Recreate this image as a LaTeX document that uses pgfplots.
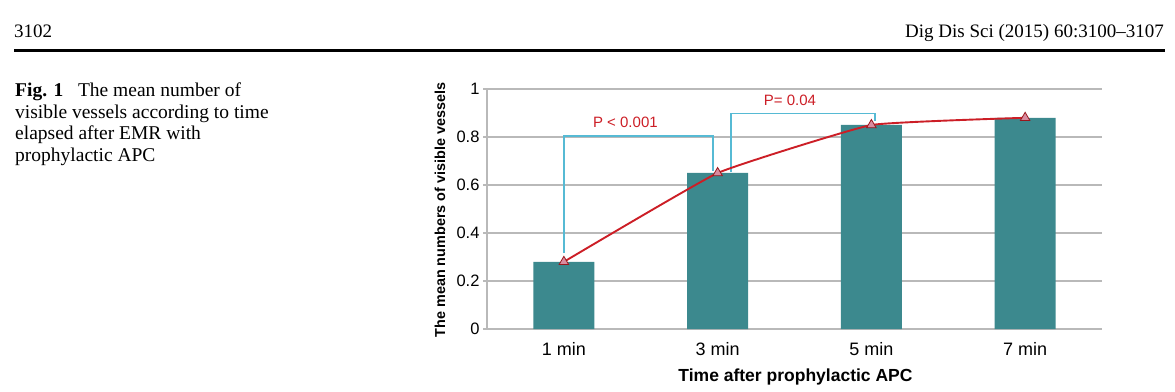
\documentclass[border=0pt]{standalone}
\usepackage{pgfplots}
\pgfplotsset{compat=1.18}
\usepackage{fontspec}
\setmainfont{Liberation Serif}
\newfontfamily\arial{Liberation Sans}
\definecolor{barteal}{RGB}{60,137,142}
\definecolor{linered}{RGB}{204,30,38}
\definecolor{markfill}{RGB}{216,140,160}
\definecolor{brcyan}{RGB}{86,186,212}
\definecolor{gridgray}{RGB}{185,185,185}
\begin{document}
\begin{tikzpicture}[x=1pt,y=1pt]
\useasboundingbox (0,0) rectangle (1175,391);
% page header
\node[anchor=base west,inner sep=0pt,font=\fontsize{19}{22}\selectfont] at (14,353.5) {3102};
\node[anchor=base east,inner sep=0pt,font=\fontsize{19}{22}\selectfont] at (1164,353.5) {Dig Dis Sci (2015) 60:3100--3107};
\draw[line width=3pt] (14,340.5) -- (1165,340.5);
% caption
\begin{scope}[every node/.style={anchor=base west,inner sep=0pt,font=\fontsize{19.5}{21.7}\selectfont}]
\node at (15,294.3) {\textbf{Fig. 1}\hspace{0.75em}The mean number of};
\node at (15,272.7) {visible vessels according to time};
\node at (15,251.0) {elapsed after EMR with};
\node at (15,229.3) {prophylactic APC};
\end{scope}
\begin{axis}[
  at={(487pt,62pt)}, anchor=south west,
  scale only axis, width=615pt, height=240pt,
  xmin=-0.5, xmax=3.5, ymin=0, ymax=1,
  axis x line=bottom, axis y line=left,
  axis line style={draw=gridgray,line width=1.3pt,-},
  xtick={0,1,2,3}, xticklabels={1 min,3 min,5 min,7 min},
  ytick={0,0.2,0.4,0.6,0.8,1}, yticklabels={0,0.2,0.4,0.6,0.8,1},
  xtick style={draw=none},
  ytick style={draw=gridgray,line width=1.3pt},
  tick align=outside, major tick length=4pt,
  ymajorgrids, grid style={draw=gridgray,line width=1.3pt},
  xticklabel style={font=\arial\fontsize{18}{18}\selectfont,yshift=-6pt},
  yticklabel style={font=\arial\fontsize{16.5}{16.5}\selectfont},
  clip=false,
]
\addplot[ybar, bar width=61pt, fill=barteal, draw=none] coordinates {(0,0.28) (1,0.65) (2,0.85) (3,0.88)};
\addplot[brcyan, line width=1.3pt, no marks] coordinates {(0,0.317) (0,0.804) (0.97,0.804) (0.97,0.66)};
\addplot[brcyan, line width=1.3pt, no marks] coordinates {(1.087,0.655) (1.087,0.897) (2.024,0.897) (2.024,0.865)};
\addplot[linered, line width=1.9pt, smooth, tension=0.2, mark=triangle*, mark size=5.5pt,
  mark options={fill=markfill, draw=linered!75!black, line width=0.8pt}] coordinates {(0,0.28) (1,0.65) (2,0.85) (3,0.88)};
\node[text=linered, font=\arial\fontsize{15}{15}\selectfont] at (axis cs:0.40,0.86) {P < 0.001};
\node[text=linered, font=\arial\fontsize{15}{15}\selectfont] at (axis cs:1.47,0.954) {P= 0.04};
\end{axis}
% axis titles
\node[anchor=base,inner sep=0pt,font=\arial\bfseries\fontsize{17.5}{17.5}\selectfont] at (795.5,9.3) {Time after prophylactic APC};
\node[anchor=base,rotate=90,inner sep=0pt,font=\arial\bfseries\fontsize{14.4}{14.4}\selectfont] at (445,181) {The mean numbers of visible vessels};
\end{tikzpicture}
\end{document}
